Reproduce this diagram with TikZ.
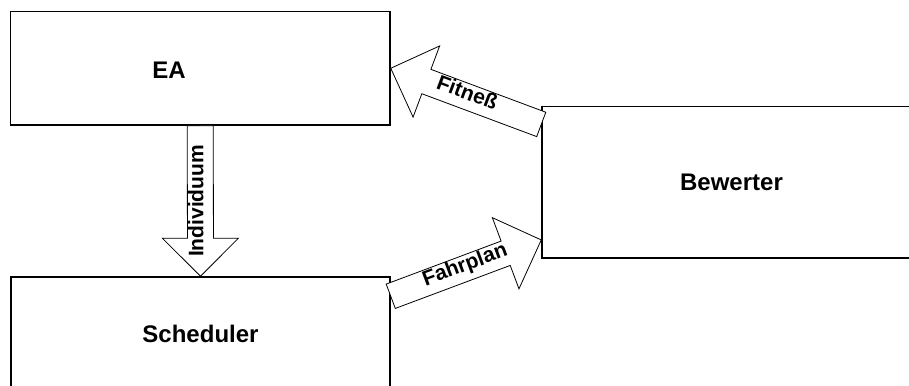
\documentclass[tikz,border=0pt]{standalone}
\usepackage{fontspec}
\setmainfont{Liberation Sans}
\usetikzlibrary{calc}

\tikzset{
  box/.style={draw=black, line width=1.5pt, rectangle, inner sep=0pt,
    font=\fontsize{24}{28}\selectfont\bfseries},
  boxlabel/.style={font=\fontsize{24}{28}\selectfont\bfseries, inner sep=0pt},
  flow/.style={draw=black, line width=0.8pt, fill=white, line join=miter},
  flowlabel/.style={font=\fontsize{21}{24}\selectfont\bfseries, inner sep=0pt,
    text height=13pt, text depth=7pt}
}

% Block arrow from #1 (tail) to #2 (tip); label node #3 with text #4,
% turned by #5 degrees relative to the arrow direction.
\newcommand\flowarrow[5]{%
  \path let \p1=(#1), \p2=(#2) in
    \pgfextra{%
      \pgfmathsetmacro\flowangle{atan2(\y2-\y1,\x2-\x1)}%
      \pgfmathsetmacro\flowlen{veclen(\x2-\x1,\y2-\y1)}%
      \global\let\flowangle\flowangle
      \global\let\flowlen\flowlen}%
    (#1);
  \begin{scope}[shift={(#1)}, rotate=\flowangle]
    \draw[flow] (0,13) -- ({\flowlen-38},13) -- ({\flowlen-38},38) -- (\flowlen,0)
      -- ({\flowlen-38},-38) -- ({\flowlen-38},-13) -- (0,-13) -- cycle;
    \node[flowlabel, rotate={\flowangle+#5}] (#3) at ({\flowlen/2},0) {#4};
  \end{scope}
}

\begin{document}
\begin{tikzpicture}[x=1pt, y=1pt]
  \useasboundingbox (0,0) rectangle (909,-385);
  \clip (0,0) rectangle (909,-385);

  % blocks
  \node[box, minimum width=379.5pt, minimum height=113.5pt] (ea) at (200.25,-68.25) {};
  \node[boxlabel] (eatext) at (169,-70) {EA};
  \node[box, minimum width=379pt, minimum height=113.5pt] (sched) at (200.5,-333.75) {Scheduler};
  \node[box, minimum width=379pt, minimum height=151.5pt] (bew) at (731.5,-182.25) {Bewerter};

  % arrow end points on the block edges
  \coordinate (fitTail) at ($(bew.north west)!0.122!(bew.south west)$);
  \coordinate (fahrTail) at ($(sched.north east)!0.174!(sched.south east)$);
  \coordinate (fahrTip) at ($(bew.north west)!0.877!(bew.south west)$);

  % data flow
  \flowarrow{ea.south}{sched.north}{indiv}{Individuum}{180}
  \flowarrow{fitTail}{ea.east}{fit}{Fitneß}{180}
  \flowarrow{fahrTail}{fahrTip}{fahr}{Fahrplan}{0}
\end{tikzpicture}
\end{document}
